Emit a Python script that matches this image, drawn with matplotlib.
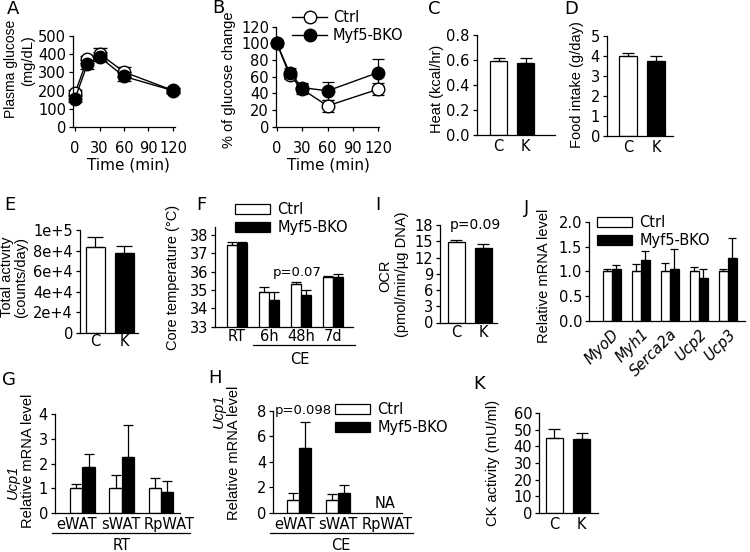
import matplotlib
matplotlib.use('Agg')
import matplotlib.pyplot as plt
import numpy as np
from matplotlib.patches import Patch
from matplotlib.lines import Line2D

plt.rcParams['font.family'] = ['DejaVu Sans']
plt.rcParams['font.size'] = 10.5
plt.rcParams['axes.linewidth'] = 0.9
plt.rcParams['xtick.major.width'] = 0.9
plt.rcParams['ytick.major.width'] = 0.9
VFONT = ['Liberation Sans', 'DejaVu Sans']

# ---------------- data ----------------
time_min = [0, 15, 30, 60, 120]
glu_ctrl = [187, 372, 403, 302, 201]
glu_ctrl_err = [15, 20, 30, 25, 15]
glu_ko = [156, 344, 385, 278, 200]
glu_ko_err = [20, 25, 25, 25, 15]

pct_ctrl = [100, 62, 45, 25, 45]
pct_ctrl_err = [3, 5, 6, 7, 7]
pct_ko = [100, 65, 47, 43, 65]
pct_ko_err = [3, 5, 5, 11, 16]

ck_groups = ['C', 'K']
heat = [0.595, 0.58]
heat_err = [0.018, 0.04]
food = [4.0, 3.75]
food_err = [0.15, 0.22]
activity = [83800, 77400]
activity_err = [9600, 7300]

temp_groups = ['RT', '6h', '48h', '7d']
temp_ctrl = [37.45, 34.87, 35.33, 35.7]
temp_ctrl_err = [0.15, 0.29, 0.12, 0.05]
temp_ko = [37.55, 34.45, 34.7, 35.7]
temp_ko_err = [0.08, 0.42, 0.3, 0.15]

ocr = [14.8, 13.77]
ocr_err = [0.45, 0.75]

genes = ['MyoD', 'Myh1', 'Serca2a', 'Ucp2', 'Ucp3']
j_ctrl = [1.0, 1.0, 1.0, 1.0, 1.0]
j_ctrl_err = [0.05, 0.14, 0.17, 0.09, 0.04]
j_ko = [1.05, 1.22, 1.05, 0.86, 1.27]
j_ko_err = [0.08, 0.18, 0.4, 0.19, 0.4]

depots = ['eWAT', 'sWAT', 'RpWAT']
g_ctrl = [1.0, 1.0, 1.0]
g_ctrl_err = [0.15, 0.52, 0.43]
g_ko = [1.85, 2.28, 0.85]
g_ko_err = [0.53, 1.29, 0.42]
h_ctrl = [1.0, 1.0, np.nan]
h_ctrl_err = [0.55, 0.45, np.nan]
h_ko = [5.05, 1.55, np.nan]
h_ko_err = [2.05, 0.6, np.nan]

ck_act = [45, 44.5]
ck_act_err = [5.5, 3.5]

labels = ['Ctrl', 'Myf5-BKO']

# ---------------- layout helpers ----------------
W, H = 750, 552
fig = plt.figure(figsize=(7.5, 5.52), dpi=100)


def add_ax(l, r, t, b):
    ax = fig.add_axes([l / W, 1 - b / H, (r - l) / W, (b - t) / H])
    ax.spines['top'].set_visible(False)
    ax.spines['right'].set_visible(False)
    ax.tick_params(axis='y', length=3, pad=2, labelsize=10.5)
    ax.patch.set_alpha(0)
    return ax


def ftext(x, y, s, **kw):
    kw.setdefault('ha', 'center')
    kw.setdefault('va', 'center')
    fig.text(x / W, 1 - y / H, s, **kw)


def vtext(x, y, s, size=10.5, **kw):
    ftext(x, y, s, rotation=90, family=VFONT, fontsize=size, **kw)


def fline(x1, x2, y):
    fig.add_artist(Line2D([x1 / W, x2 / W], [1 - y / H, 1 - y / H],
                          transform=fig.transFigure, color='k', lw=0.9))


def up_err(ax, x, y, e, cap):
    y = np.asarray(y, float)
    e = np.asarray(e, float)
    ax.errorbar(x, y, yerr=[np.zeros_like(e), e], fmt='none', ecolor='k',
                elinewidth=0.9, capsize=cap, capthick=0.9, clip_on=False)


def two_bar(ax, vals, errs, w, cap, xl, yl, yt, ytl=None, pad=2):
    x = np.arange(len(vals))
    ax.bar(x, vals, width=w, color=['white', 'black'], edgecolor='k', lw=0.9)
    up_err(ax, x, vals, errs, cap)
    ax.set_xlim(xl)
    ax.set_ylim(yl)
    ax.set_yticks(yt)
    if ytl is not None:
        ax.set_yticklabels(ytl)
    ax.set_xticks(x)
    ax.set_xticklabels(ck_groups)
    ax.tick_params(axis='x', length=0, pad=pad, labelsize=10.5)


def grouped(ax, c, ce, k, ke, w, cap):
    x = np.arange(len(c))
    ax.bar(x - w / 2, c, width=w, color='white', edgecolor='k', lw=0.9)
    ax.bar(x + w / 2, k, width=w, color='black', edgecolor='k', lw=0.9)
    up_err(ax, x - w / 2, c, ce, cap)
    up_err(ax, x + w / 2, k, ke, cap)
    return x


box_handles = [Patch(facecolor='white', edgecolor='k', lw=0.9),
               Patch(facecolor='black', edgecolor='k', lw=0.9)]


def box_legend(x, y):
    fig.legend(box_handles, labels, loc='upper left',
               bbox_to_anchor=(x / W, 1 - y / H), frameon=False,
               handlelength=2.4, handleheight=0.65, handletextpad=0.5,
               labelspacing=0.2, borderpad=0, borderaxespad=0, fontsize=10.5)


# ---------------- A ----------------
axA = add_ax(73, 175, 36, 127)
axA.errorbar(time_min, glu_ctrl, yerr=glu_ctrl_err, color='k', lw=1, marker='o',
             ms=9, mfc='white', mec='k', mew=1, capsize=5, capthick=0.9,
             elinewidth=0.9, clip_on=False)
axA.errorbar(time_min, glu_ko, yerr=glu_ko_err, color='k', lw=1, marker='o',
             ms=9, mfc='black', mec='k', capsize=5, capthick=0.9,
             elinewidth=0.9, clip_on=False)
axA.set_xlim(-2.5, 122.5)
axA.set_ylim(0, 500)
axA.set_yticks([0, 100, 200, 300, 400, 500])
axA.set_xticks([0, 30, 60, 90, 120])
axA.tick_params(axis='x', length=3, pad=7, labelsize=10.5)
vtext(11, 69, 'Plasma glucose', size=10)
vtext(28, 61, '(mg/dL)')
ftext(128, 165, 'Time (min)', fontsize=11)

# ---------------- B ----------------
axB = add_ax(276, 379, 26.7, 126.7)
axB.errorbar(time_min, pct_ctrl, yerr=pct_ctrl_err, color='k', lw=1, marker='o',
             ms=9, mfc='white', mec='k', capsize=4.5, capthick=0.9,
             elinewidth=0.9, clip_on=False)
axB.errorbar(time_min, pct_ko, yerr=pct_ko_err, color='k', lw=1, marker='o',
             ms=9, mfc='black', mec='k', capsize=4.5, capthick=0.9,
             elinewidth=0.9, clip_on=False)
axB.set_xlim(-1, 121)
axB.set_ylim(0, 120)
axB.set_yticks([0, 20, 40, 60, 80, 100, 120])
axB.set_xticks([0, 30, 60, 90, 120])
axB.tick_params(axis='x', length=3, pad=7, labelsize=10.5)
vtext(229, 80, '% of glucose change')
ftext(328, 165, 'Time (min)', fontsize=11)
line_handles = [Line2D([], [], color='k', lw=1, marker='o', ms=9, mfc='white', mec='k'),
                Line2D([], [], color='k', lw=1, marker='o', ms=9, mfc='black', mec='k')]
fig.legend(line_handles, labels, loc='upper left', bbox_to_anchor=(292 / W, 1 - 10 / H),
           frameon=False, handlelength=2.4, handletextpad=0.4, labelspacing=0.2,
           borderpad=0, borderaxespad=0, fontsize=10.5)

# ---------------- C ----------------
axC = add_ax(476.7, 555, 35, 135)
two_bar(axC, heat, heat_err, 0.63, 4.5, (-0.81, 2.09), (0, 0.8),
        [0, 0.2, 0.4, 0.6, 0.8], ['0.0', '0.2', '0.4', '0.6', '0.8'], pad=3)
vtext(437, 89, 'Heat (kcal/hr)')

# ---------------- D ----------------
axD = add_ax(607, 673, 35.7, 135.7)
two_bar(axD, food, food_err, 0.64, 4.5, (-0.75, 1.6), (0, 5), [0, 1, 2, 3, 4, 5], pad=3)
vtext(577, 85, 'Food intake (g/day)')

# ---------------- E ----------------
axE = add_ax(80, 138, 230, 333)
two_bar(axE, activity, activity_err, 0.66, 5.5, (-0.53, 1.47), (0, 1e5),
        [0, 2e4, 4e4, 6e4, 8e4, 1e5], ['0', '2e+4', '4e+4', '6e+4', '8e+4', '1e+5'], pad=1)
vtext(7.5, 277, 'Total activity')
vtext(21.5, 277, '(counts/day)')

# ---------------- F ----------------
axF = add_ax(215, 353, 226.5, 326.7)
xF = grouped(axF, temp_ctrl, temp_ctrl_err, temp_ko, temp_ko_err, 0.31, 3.3)
axF.set_xlim(-0.69, 3.62)
axF.set_ylim(33, 38.45)
axF.set_yticks([33, 34, 35, 36, 37, 38])
axF.set_xticks(xF)
axF.set_xticklabels(temp_groups)
axF.tick_params(axis='x', length=0, pad=2)
axF.text(1.875, 35.93, 'p=0.07', ha='center', va='center', fontsize=9.5)
vtext(173, 277, 'Core temperature (°C)')
fline(253, 355, 345)
ftext(300, 359, 'CE')
box_legend(235, 202)

# ---------------- I ----------------
axI = add_ax(440, 497, 225, 322.5)
two_bar(axI, ocr, ocr_err, 0.63, 4.5, (-0.61, 1.5), (0, 18), [0, 3, 6, 9, 12, 15, 18], pad=2)
axI.text(0.69, 18.0, 'p=0.09', ha='center', va='center', fontsize=10)
vtext(385, 276, 'OCR')
vtext(402, 274, '(pmol/min/µg DNA)')

# ---------------- J ----------------
axJ = add_ax(589, 745, 221.7, 321)
xJ = grouped(axJ, j_ctrl, j_ctrl_err, j_ko, j_ko_err, 0.31, 3.0)
axJ.set_xlim(-0.78, 4.6)
axJ.set_ylim(0, 2.0)
axJ.set_yticks([0, 0.5, 1.0, 1.5, 2.0])
axJ.set_yticklabels(['0.0', '0.5', '1.0', '1.5', '2.0'])
axJ.set_xticks(xJ)
axJ.set_xticklabels(genes, rotation=45, ha='right', rotation_mode='anchor', style='italic')
axJ.tick_params(axis='x', length=0, pad=4)
vtext(544, 276, 'Relative mRNA level')
box_legend(597, 215)

# ---------------- G ----------------
axG = add_ax(55, 180, 414.3, 512.7)
xG = grouped(axG, g_ctrl, g_ctrl_err, g_ko, g_ko_err, 0.31, 3.8)
axG.set_xlim(-0.70, 2.49)
axG.set_ylim(0, 4)
axG.set_yticks([0, 1, 2, 3, 4])
axG.set_xticks(xG + np.array([-0.15, -0.03, 0.2]))
axG.set_xticklabels(depots)
axG.tick_params(axis='x', length=0, pad=3)
vtext(13, 482, 'Ucp1', style='italic')
vtext(28, 461, 'Relative mRNA level')
fline(52, 190, 533)
ftext(122, 545, 'RT')

# ---------------- H ----------------
axH = add_ax(273.3, 402, 410.7, 512.7)
xH = grouped(axH, h_ctrl, h_ctrl_err, h_ko, h_ko_err, 0.31, 3.8)
axH.set_xlim(-0.65, 2.62)
axH.set_ylim(0, 8)
axH.set_yticks([0, 2, 4, 6, 8])
axH.set_xticks(xH + np.array([-0.1, 0.0, 0.25]))
axH.set_xticklabels(depots)
axH.tick_params(axis='x', length=0, pad=3)
axH.text(2.2, 0.75, 'NA', ha='center', va='center')
axH.text(0.12, 8.05, 'p=0.098', ha='center', va='center', fontsize=9.5)
vtext(219, 411, 'Ucp1', style='italic')
vtext(234, 453, 'Relative mRNA level')
fline(270, 413, 533)
ftext(341, 545, 'CE')
box_legend(335, 402)

# ---------------- K ----------------
axK = add_ax(539.3, 598, 413.3, 512.7)
two_bar(axK, ck_act, ck_act_err, 0.62, 4.5, (-0.55, 1.6), (0, 60),
        [0, 10, 20, 30, 40, 50, 60], pad=3)
vtext(493, 463, 'CK activity (mU/ml)')

# ---------------- panel letters ----------------
for s, x, y in [('A', 13, 9), ('B', 218, 8), ('C', 434, 9), ('D', 571, 9),
                ('E', 10, 205), ('F', 201, 205), ('I', 378, 205), ('J', 527, 208),
                ('G', 9, 380), ('H', 215, 378), ('K', 479, 384)]:
    ftext(x, y, s, fontsize=13)

fig.savefig('out.png', dpi=100)
